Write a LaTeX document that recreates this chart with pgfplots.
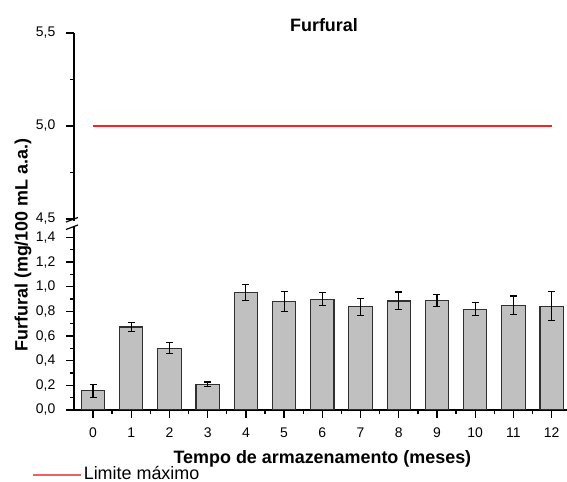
\documentclass[border=0pt]{standalone}
\usepackage{fontspec}
\setmainfont{Liberation Sans}
\usepackage{pgfplots}
\pgfplotsset{compat=1.18}
\definecolor{barfill}{HTML}{C0C0C0}
\definecolor{bardraw}{HTML}{303030}
\definecolor{limred}{HTML}{FF2020}
\definecolor{legred}{HTML}{F06060}
\pgfplotstableread{
x y e
0 0.155 0.055
1 0.674 0.035
2 0.500 0.045
3 0.209 0.018
4 0.953 0.065
5 0.883 0.080
6 0.899 0.052
7 0.837 0.070
8 0.885 0.073
9 0.891 0.050
10 0.818 0.052
11 0.850 0.075
12 0.842 0.118
}\furfural
\begin{document}
\begin{tikzpicture}
\useasboundingbox (0bp,0bp) rectangle (567bp,482bp);
\pgfplotsset{
 base/.style={scale only axis, width=493bp, xmin=-0.5, xmax=12.4,
  /pgf/number format/assume math mode=true,
  tick align=outside, major tick length=8bp, minor tick length=4bp,
  every tick/.style={line width=1.3bp, black},
  axis line style={-, line width=1.3bp, black},
  every tick label/.append style={font=\fontsize{14}{16}\selectfont},
  yticklabel style={xshift=-7bp, /pgf/number format/.cd, fixed, fixed zerofill, precision=1, use comma},
  xticklabel style={yshift=-6bp},
  xtick pos=bottom, ytick pos=left,
 }
}
\begin{axis}[base, at={(73.9bp,72bp)}, anchor=south west, height=172.5bp,
  ymin=0, ymax=1.4, axis x line*=bottom, axis y line*=left,
  xtick={0,1,2,3,4,5,6,7,8,9,10,11,12},
  minor xtick={0.5,1.5,2.5,3.5,4.5,5.5,6.5,7.5,8.5,9.5,10.5,11.5},
  ytick={0,0.2,0.4,0.6,0.8,1.0,1.2,1.4},
  minor ytick={0.1,0.3,0.5,0.7,0.9,1.1,1.3},
  legend style={at={(-0.085,-0.368)}, anchor=west, draw=none, fill=none, inner sep=0pt,
    font=\fontsize{18}{20}\selectfont},
  legend image code/.code={\draw[legred, line width=1.6bp] (0bp,-1.5bp) -- (48bp,-1.5bp);},
]
\addplot[ybar, bar width=0.61, fill=barfill, draw=bardraw, line width=1.1bp, forget plot,
  error bars/.cd, y dir=both, y explicit,
  error bar style={line width=1.1bp, black},
  error mark options={rotate=90, mark size=3.5bp, line width=1.1bp, black}]
  table[x=x, y=y, y error=e] {\furfural};
\addlegendimage{legred, line width=1.6bp}
\addlegendentry{Limite máximo}
\end{axis}
\begin{axis}[base, at={(73.9bp,263bp)}, anchor=south west, height=186bp,
  ymin=4.5, ymax=5.5, axis x line=none, axis y line*=left,
  ytick={4.5,5.0,5.5}, minor ytick={4.75,5.25}]
\addplot[limred, line width=1.3bp] coordinates {(0,5) (12,5)};
\end{axis}
% axis break
\draw[line width=1.3bp] (73.9bp,263bp) -- (73.9bp,261bp);
\draw[line width=1.3bp] (73.9bp,255bp) -- (73.9bp,245bp);
\draw[line width=1.2bp] (66bp,260bp) -- (78bp,264.5bp);
\draw[line width=1.2bp] (66bp,252.5bp) -- (78bp,257bp);
\node[anchor=base, font=\fontsize{18}{20}\selectfont\bfseries] at (324bp,450.3bp) {Furfural};
\node[anchor=base, font=\fontsize{18}{20}\selectfont\bfseries] at (322.4bp,19bp) {Tempo de armazenamento (meses)};
\node[rotate=90, font=\fontsize{18}{20}\selectfont\bfseries] at (23bp,237bp) {Furfural (mg/100 mL a.a.)};
\end{tikzpicture}
\end{document}
